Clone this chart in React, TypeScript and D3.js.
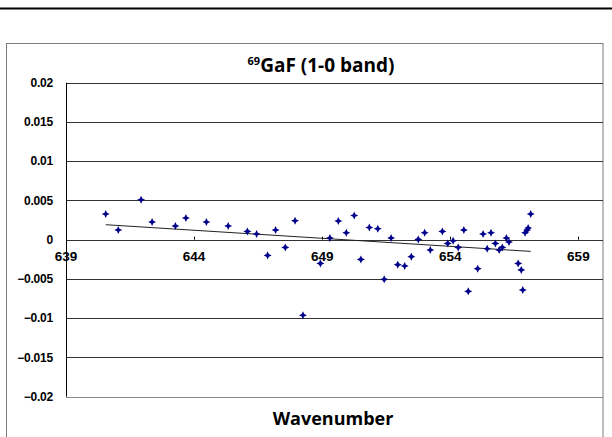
import React from "react";
import * as d3 from "d3";

const waveX = [640.55, 641.04, 641.93, 642.36, 643.27, 643.68, 644.48, 645.33, 646.08, 646.44, 646.87, 647.18, 647.56, 647.94, 648.25, 648.93, 649.30, 649.63, 649.94, 650.25, 650.51, 650.84, 651.17, 651.42, 651.69, 651.95, 652.22, 652.48, 652.75, 653.00, 653.22, 653.69, 653.90, 654.11, 654.31, 654.53, 654.70, 655.07, 655.28, 655.44, 655.59, 655.76, 655.91, 656.03, 656.19, 656.29, 656.65, 656.77, 656.83, 656.92, 657.00, 657.04, 657.14];
const residY = [0.00327, 0.00123, 0.00509, 0.00225, 0.00174, 0.00276, 0.00225, 0.00174, 0.00106, 0.00073, -0.0020, 0.00123, -0.00098, 0.00242, -0.00963, -0.00302, 0.00022, 0.00238, 0.00089, 0.00309, -0.00251, 0.00156, 0.0014, -0.00505, 0.00022, -0.00318, -0.00335, -0.00216, 0.00004, 0.00089, -0.00131, 0.00106, -0.00047, -0.00013, -0.00098, 0.00123, -0.00658, -0.00369, 0.00073, -0.00115, 0.00089, -0.00047, -0.00131, -0.00098, 0.00022, -0.00029, -0.00302, -0.00385, -0.0064, 0.00089, 0.00123, 0.00149, 0.00327];
const trendX = [640.55, 657.14];
const trendY = [0.00191, -0.00149];
const xTicks = [639, 644, 649, 654, 659];
const yTicks = [0.02, 0.015, 0.01, 0.005, 0, -0.005, -0.01, -0.015, -0.02];
const yTickLabels = ["0.02", "0.015", "0.01", "0.005", "0", "\u22120.005", "\u22120.01", "\u22120.015", "\u22120.02"];
const titleSup = "69";
const titleMain = "GaF (1-0 band)";
const xTitle = "Wavenumber";

const starPath = "M0,-4L1.3,-1.3L4,0L1.3,1.3L0,4L-1.3,1.3L-4,0L-1.3,-1.3Z";

export default function App() {
  const x = d3.scaleLinear().domain([639, 660]).range([66, 604]);
  const y = d3.scaleLinear().domain([-0.02, 0.02]).range([396.7, 82.7]);
  const line = d3.line<number>().x((d, i) => x(trendX[i])).y((d, i) => y(trendY[i]));
  return (
    <svg width={612} height={437} style={{ position: "absolute", left: 0, top: 0, background: "#fff" }}>
      <rect x={0} y={0} width={612} height={437} fill="#fff" />
      <line x1={0} x2={612} y1={8.5} y2={8.5} stroke="#000" strokeWidth={2} />
      <rect x={6.5} y={43.5} width={596.5} height={420} fill="#fff" stroke="#7a7a7a" strokeWidth={1} />
      {yTicks.map((t) => (
        <line key={t} x1={66} x2={603} y1={Math.round(y(t)) + 0.5} y2={Math.round(y(t)) + 0.5} stroke={t === -0.02 ? "#888" : "#333"} strokeWidth={1} />
      ))}
      <line x1={66.5} x2={66.5} y1={y(0.02)} y2={y(-0.02)} stroke="#000" strokeWidth={1} />
      {xTicks.slice(1).map((t) => (
        <line key={t} x1={Math.round(x(t)) + 0.5} x2={Math.round(x(t)) + 0.5} y1={y(0) - 3} y2={y(0)} stroke="#000" strokeWidth={1} />
      ))}
      <path d={line(trendX) || ""} fill="none" stroke="#222" strokeWidth={1} />
      {waveX.map((v, i) => (
        <path key={i} d={starPath} transform={`translate(${x(v)},${y(residY[i])})`} fill="#00008b" />
      ))}
      {yTicks.map((t, i) => (
        <text key={t} x={53} y={y(t)} dy="0.35em" textAnchor="end" fontFamily="Liberation Sans, Arial, sans-serif" fontWeight="bold" fontSize={12} letterSpacing={-0.2} fill="#000">
          {yTickLabels[i]}
        </text>
      ))}
      {xTicks.map((t) => (
        <text key={t} x={x(t)} y={261} textAnchor="middle" fontFamily="Liberation Sans, Arial, sans-serif" fontWeight="bold" fontSize={13.5} fill="#000">
          {t}
        </text>
      ))}
      <text x={321} y={72} textAnchor="middle" fontFamily="Open Sans, sans-serif" fontWeight="bold" fontSize={19} fill="#000">
        <tspan fontSize={11} dy={-7}>{titleSup}</tspan>
        <tspan dy={7}>{titleMain}</tspan>
      </text>
      <text x={333} y={425} textAnchor="middle" fontFamily="Open Sans, sans-serif" fontWeight="bold" fontSize={18} fill="#000">
        {xTitle}
      </text>
    </svg>
  );
}
